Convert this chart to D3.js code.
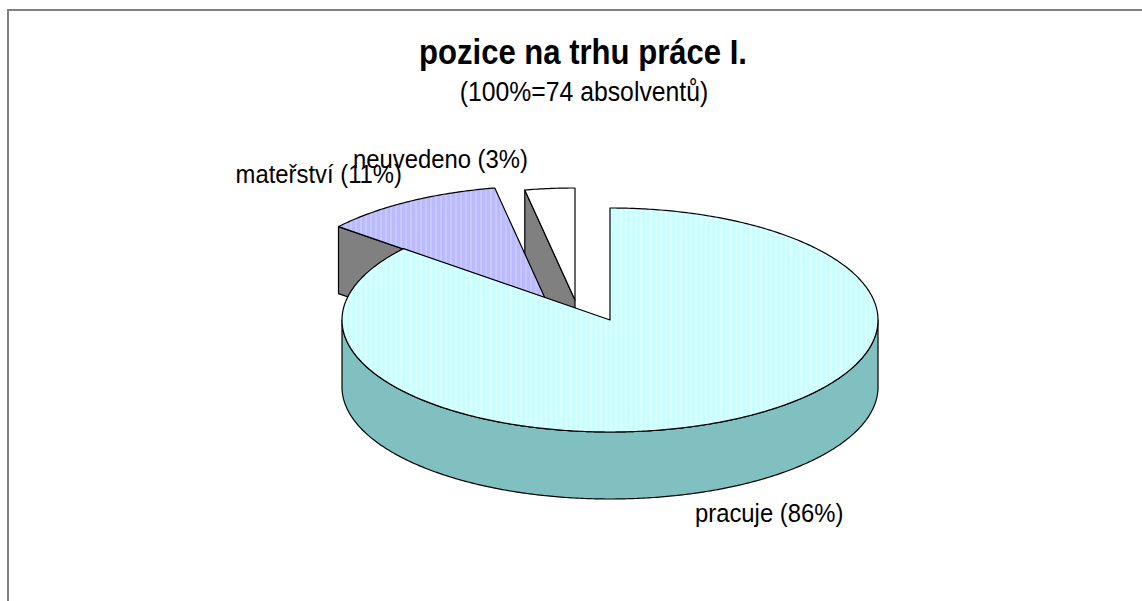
<!DOCTYPE html>
<html>
<head>
<meta charset="utf-8">
<script src="https://cdn.jsdelivr.net/npm/d3@7"></script>
<style>
  html, body { margin: 0; padding: 0; background: #fff; }
  text { font-family: "Liberation Sans", Arial, sans-serif; }
</style>
</head>
<body>
<svg id="chart" width="1142" height="601"></svg>
<script>
// data
var categories = ["pracuje", "mateřství", "neuvedeno"];
var percents = [86, 11, 3];
var title = "pozice na trhu práce I.";
var subtitle = "(100%=74 absolventů)";

// look
var topFill = ["url(#stripeCyan)", "url(#stripeLav)", "#ffffff"];
var wallFill = ["#80c0c0", "#8080c0", "#808080"];
var faceFill = "#808080";
var explode = [[0, 0], [-65, -22], [-35, -20]];
var labelPos = [[695, 522, "start"], [402, 183, "end"], [353, 168, "start"]];

var svg = d3.select("#chart");
var cx = 610, cy = 320, rx = 268, ry = 112, depth = 67;

var defs = svg.append("defs");
function stripes(id, base, line) {
    var p = defs.append("pattern").attr("id", id)
        .attr("patternUnits", "userSpaceOnUse")
        .attr("width", 5).attr("height", 10);
    p.append("rect").attr("width", 5).attr("height", 10).attr("fill", base);
    p.append("rect").attr("width", 2).attr("height", 10).attr("fill", line);
}
stripes("stripeCyan", "#c8ffff", "#dcffff");
stripes("stripeLav", "#babaff", "#c8c8ff");

// frame
svg.append("path")
    .attr("d", "M8,601 L8,10 L1142,10")
    .attr("fill", "none").attr("stroke", "#808080").attr("stroke-width", 2);

// titles
function label(x, y, txt, size, weight, anchor) {
    svg.append("text")
        .attr("transform", "translate(" + x + "," + y + ") scale(0.9,1)")
        .attr("text-anchor", anchor)
        .attr("font-size", size)
        .attr("font-weight", weight)
        .attr("fill", "#000")
        .text(txt);
}
label(583, 64, title, 34.5, "bold", "middle");
label(584, 101, subtitle, 27.5, "normal", "middle");

var pie = d3.pie().sort(null).startAngle(0).endAngle(2 * Math.PI);
var arcs = pie(percents);

function pt(a, off, z) {
    return [cx + off[0] + rx * Math.sin(a), cy + off[1] - ry * Math.cos(a) + z];
}
function arcPts(a0, a1, off, z) {
    var n = Math.max(2, Math.ceil(Math.abs(a1 - a0) / 0.01));
    return d3.range(n + 1).map(function(i) { return pt(a0 + (a1 - a0) * i / n, off, z); });
}
var line = d3.line();

// back slices first
var order = arcs.map(function(d, i) { return i; }).sort(function(a, b) {
    var ma = (arcs[a].startAngle + arcs[a].endAngle) / 2;
    var mb = (arcs[b].startAngle + arcs[b].endAngle) / 2;
    return Math.cos(mb) - Math.cos(ma);
});

var g = svg.append("g")
    .attr("stroke", "#000").attr("stroke-width", 1.2).attr("stroke-linejoin", "round");

order.forEach(function(i) {
    var d = arcs[i], off = explode[i];
    var a0 = d.startAngle, a1 = d.endAngle;
    var tip = [cx + off[0], cy + off[1]];
    var tipB = [tip[0], tip[1] + depth];

    // radial cut faces that look towards the viewer
    [[a0, Math.sin(a0) < -1e-6], [a1, Math.sin(a1) > 1e-6]].forEach(function(f) {
        if (!f[1]) return;
        var e = pt(f[0], off, 0), eB = pt(f[0], off, depth);
        g.append("path").attr("d", line([tip, e, eB, tipB]) + "Z").attr("fill", faceFill);
    });

    // outer wall on the front half
    var s = Math.max(a0, Math.PI / 2), t = Math.min(a1, 3 * Math.PI / 2);
    if (t > s) {
        var pts = arcPts(s, t, off, 0).concat(arcPts(t, s, off, depth));
        g.append("path").attr("d", line(pts) + "Z").attr("fill", wallFill[i]);
    }

    // top
    var topPts = [tip].concat(arcPts(a0, a1, off, 0));
    g.append("path").attr("d", line(topPts) + "Z").attr("fill", topFill[i]);
});

categories.forEach(function(c, i) {
    var p = labelPos[i];
    label(p[0], p[1], c + " (" + percents[i] + "%)", 26.5, "normal", p[2]);
});
</script>
</body>
</html>
